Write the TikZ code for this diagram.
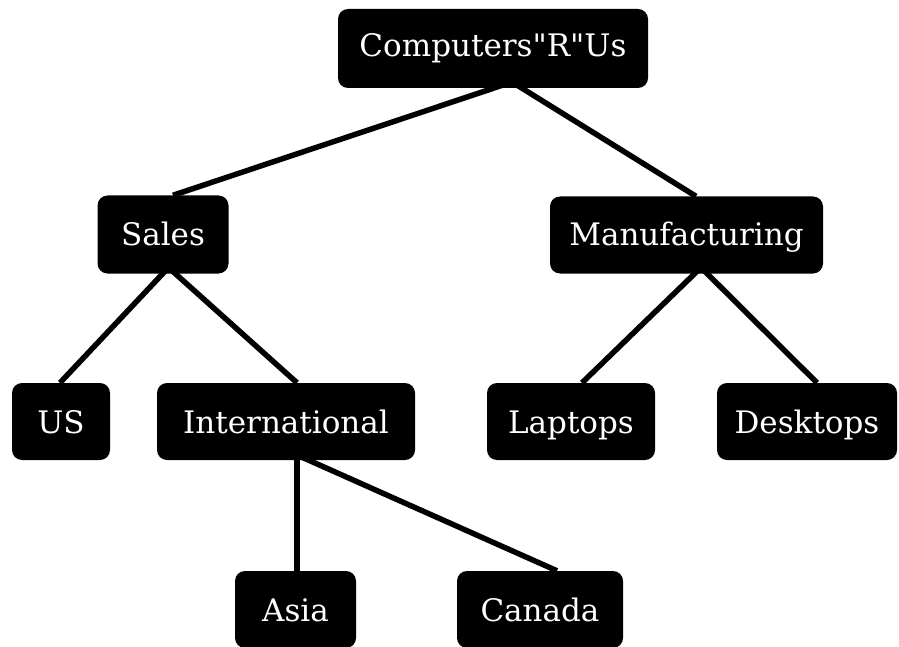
\documentclass[tikz,border=0pt]{standalone}
\usepackage{fontspec}
\setmainfont{DejaVu Serif}[Ligatures=TeXOff]
\usetikzlibrary{calc}
\begin{document}
\begin{tikzpicture}[x=1pt,y=-1pt,
  box/.style={fill=black,rounded corners=10pt,text=white,
    font=\fontsize{31}{36}\selectfont,minimum height=77pt,inner sep=0pt,anchor=center,
    text height=27pt,text depth=3pt},
  link/.style={line width=5.5pt,black}]
\useasboundingbox (0,0) rectangle (899,647);
\node[box,minimum width=310pt,minimum height=79pt,text height=23pt,text depth=7pt] (root) at (493,48.5) {Computers"R"Us};
\node[box,minimum width=131pt,minimum height=78pt,text height=26pt,text depth=4pt] (sales) at (163,234.5) {Sales};
\node[box,minimum width=273pt,text height=25pt,text depth=5pt] (manu) at (686.5,235) {Manufacturing};
\node[box,minimum width=98pt] (us) at (61,421.5) {US};
\node[box,minimum width=258pt] (intl) at (286,421.5) {International};
\node[box,minimum width=168pt] (laptops) at (571,421.5) {Laptops};
\node[box,minimum width=180pt] (desktops) at (807,421.5) {Desktops};
\node[box,minimum width=121pt] (asia) at (295.5,609.5) {Asia};
\node[box,minimum width=166pt] (canada) at (540,609.5) {Canada};
\draw[link] ($(root.center)+(19,33.5)$) -- ($(sales.north)+(10,0)$);
\draw[link] ($(root.center)+(19,33.5)$) -- ($(manu.north)+(9.5,0)$);
\draw[link] ($(sales.center)+(5.5,33)$) -- ($(us.north)+(-1,0)$);
\draw[link] ($(sales.center)+(5.5,33)$) -- ($(intl.north)+(11,0)$);
\draw[link] ($(manu.center)+(14.5,32.5)$) -- ($(laptops.north)+(11,0)$);
\draw[link] ($(manu.center)+(14.5,32.5)$) -- ($(desktops.north)+(10,0)$);
\draw[link] ($(intl.center)+(11,33.5)$) -- ($(asia.north)+(1.5,0)$);
\draw[link] ($(intl.center)+(11,33.5)$) -- ($(canada.north)+(17,0)$);
\end{tikzpicture}
\end{document}
